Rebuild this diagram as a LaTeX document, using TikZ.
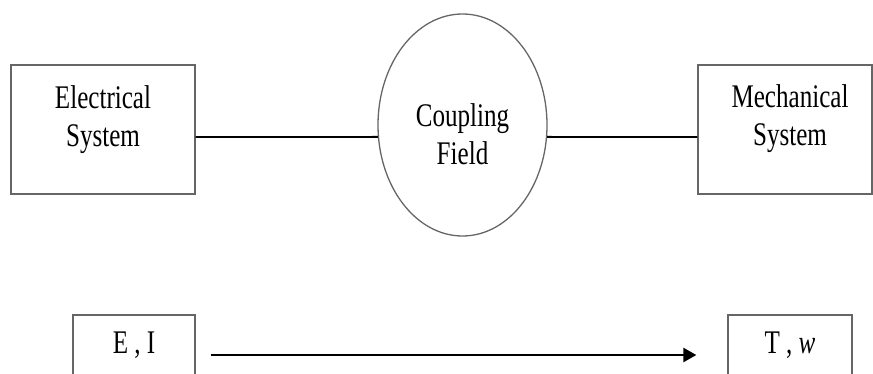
\documentclass[tikz,border=0pt]{standalone}
\usepackage{fontspec}
\setmainfont[FakeStretch=0.76]{Liberation Serif}
\usetikzlibrary{shapes.geometric,arrows.meta,calc}
\tikzset{
  box/.style={draw=black!60, line width=1.3pt, rectangle, inner sep=0pt},
  oval/.style={draw=black!60, line width=1.3pt, ellipse, inner sep=0pt},
  txt/.style={align=center, inner sep=0pt, font=\fontsize{33}{38}\selectfont},
  link/.style={line width=1.8pt, black},
  arr/.style={line width=2.4pt, black, -{Triangle[length=13pt,width=14pt]}}
}
\begin{document}
\begin{tikzpicture}[x=1pt,y=1pt]
\useasboundingbox (0,0) rectangle (873,373);
% top row
\node[box, minimum width=184pt, minimum height=129pt] (el) at (103,243.5) {};
\node[txt] (elt) at (103,253) {Electrical\\System};
\node[oval, minimum width=169pt, minimum height=222pt] (cf) at (462.5,248) {};
\node[txt] (cft) at (462.5,239) {Coupling\\Field};
\node[box, minimum width=174pt, minimum height=129pt] (me) at (785,243.5) {};
\node[txt] (met) at (790,254.5) {Mechanical\\System};
\draw[link] ($(el.east)+(0,-7.5)$) -- (cf.188);
\draw[link] (cf.352) -- ($(me.west)+(0,-7.5)$);
% bottom row
\node[box, minimum width=122pt, minimum height=78pt] (ei) at (134,19) {};
\node[txt] (eit) at (134,28) {E , I};
\node[box, minimum width=124pt, minimum height=78pt] (tw) at (790,19) {};
\node[txt] (twt) at (790,28) {T , \textit{w}};
\draw[arr] ($(ei.east)+(15,-1)$) -- ($(tw.west)+(-31,-1)$);
\end{tikzpicture}
\end{document}
